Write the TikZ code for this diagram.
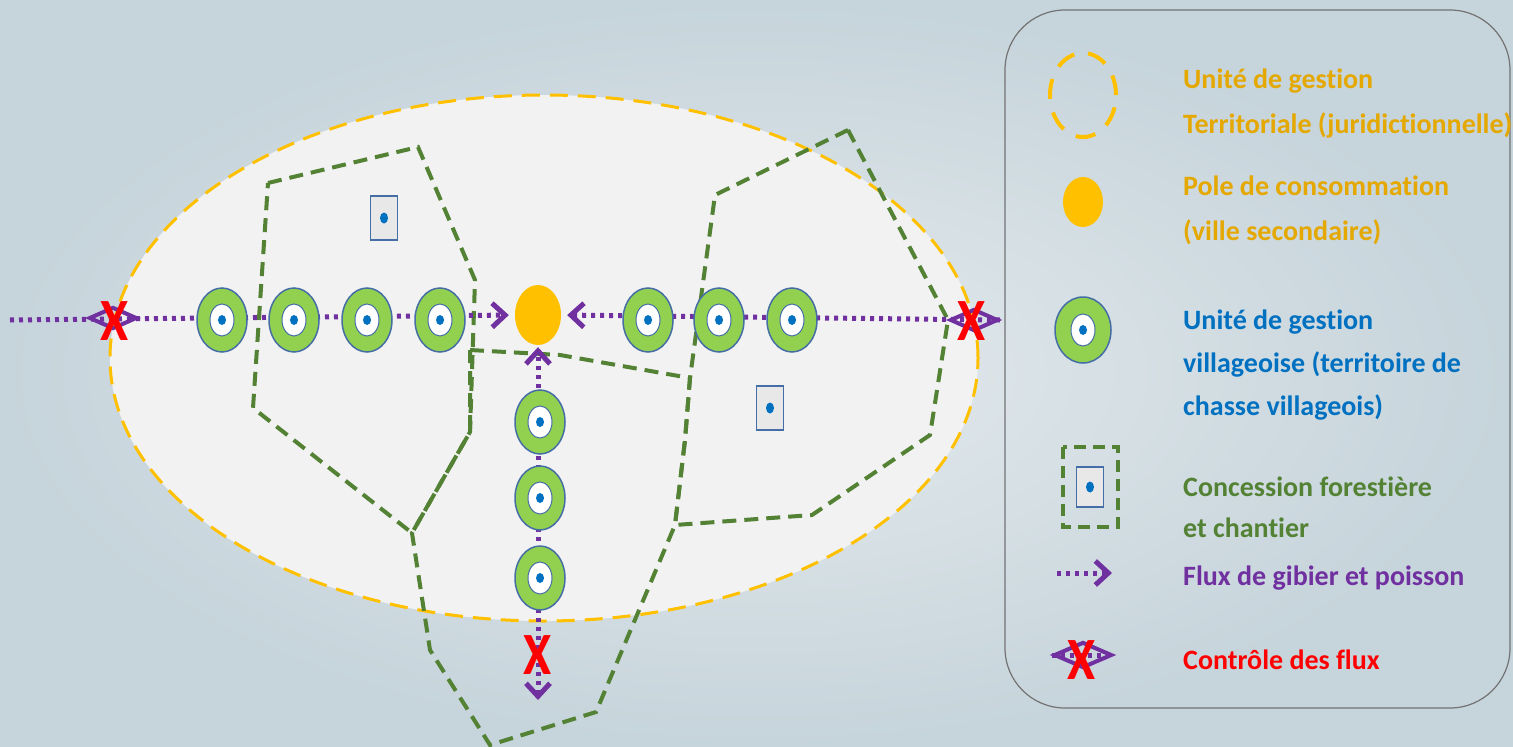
\documentclass[tikz,border=0pt]{standalone}
\usepackage{fontspec}
\setmainfont{Carlito}[Ligatures=NoCommon]
\usepackage{graphicx}
\usetikzlibrary{shapes.geometric,arrows.meta,backgrounds}
\pgfdeclarelayer{flux}
\pgfsetlayers{background,flux,main}

\definecolor{gold}{RGB}{255,192,0}
\definecolor{goldtext}{RGB}{228,168,0}
\definecolor{vgreen}{RGB}{146,208,80}
\definecolor{vborder}{RGB}{68,110,165}
\definecolor{dotblue}{RGB}{0,112,192}
\definecolor{forest}{RGB}{84,130,53}
\definecolor{fluxpurple}{RGB}{112,48,160}
\definecolor{bgout}{RGB}{198,212,219}
\definecolor{bgin}{RGB}{228,234,237}
\definecolor{terrfill}{RGB}{242,242,242}

\tikzset{
  village/.style={ellipse, draw=vborder, line width=1.5pt, fill=vgreen,
    minimum width=50pt, minimum height=64pt, inner sep=0pt,
    path picture={
      \draw[vborder, line width=1pt, fill=white] (path picture bounding box.center) ellipse (12pt and 16pt);
      \fill[dotblue] (path picture bounding box.center) ellipse (4pt and 5pt);}},
  chantier/.style={rectangle, draw=vborder, line width=1.5pt, fill=black!9,
    minimum width=27pt, minimum height=44pt, inner sep=0pt,
    path picture={\fill[dotblue] (path picture bounding box.center) ellipse (4pt and 5.5pt);}},
  pole/.style={ellipse, fill=gold, minimum width=46pt, minimum height=60pt, inner sep=0pt},
  control/.style={diamond, draw=fluxpurple, line width=4pt, minimum width=48pt,
    minimum height=22pt, inner sep=0pt},
  stopx/.style={text=red, font=\fontsize{60}{60}\selectfont\bfseries, inner sep=0pt},
  concession/.style={draw=forest, line width=4pt, dash pattern=on 14pt off 8pt},
  flux/.style={draw=fluxpurple, line width=5pt, dash pattern=on 4pt off 5pt,
    -{Straight Barb[length=13pt,width=24pt,line width=5pt]}},
  fluxboth/.style={flux, {Straight Barb[length=13pt,width=24pt,line width=5pt]}-{Straight Barb[length=13pt,width=24pt,line width=5pt]}},
  legtext/.style={anchor=west, align=left, inner sep=0pt,
    font=\fontsize{28}{45}\selectfont\bfseries}
}

\begin{document}
\begin{tikzpicture}[x=1pt,y=-1pt]
\useasboundingbox (0,0) rectangle (1513,747);

% territoire et concessions
\begin{scope}[on background layer]
\shade[inner color=bgin, outer color=bgout] (0,0) rectangle (1513,747);
\draw[gold, line width=3pt, dash pattern=on 18pt off 10pt, fill=terrfill] (544,358) ellipse (434pt and 263pt);
\draw[concession] (268,183) -- (418,147) -- (475,280) -- (470,432) -- (412,533) -- (253,408) -- cycle;
\draw[concession] (470,350) -- (560,355) -- (690,378) -- (685,440) -- (675,525) -- (596,712)
  -- (490,745) -- (430,650) -- (412,533) -- (470,432) -- cycle;
\draw[concession] (848,130) -- (715,195) -- (690,378) -- (685,440) -- (675,525) -- (812,515)
  -- (930,435) -- (948,320) -- cycle;
\end{scope}

\node[chantier] (ch1) at (384,218) {};
\node[chantier] (ch2) at (770,408) {};

% pole et unites villageoises
\node[pole] (pole) at (538,315) {};
\node[village] (v1) at (222,320) {};
\node[village] (v2) at (294,320) {};
\node[village] (v3) at (367,320) {};
\node[village] (v4) at (440,320) {};
\node[village] (v5) at (648,320) {};
\node[village] (v6) at (719,320) {};
\node[village] (v7) at (792,320) {};
\node[village] (v8) at (540,422) {};
\node[village] (v9) at (540,498) {};
\node[village] (v10) at (540,578) {};

% controles
\node[control] (cL) at (113,318) {};
\node[control] (cR) at (974,320) {};
\coordinate (fL) at (10,320);
\coordinate (fB) at (538,700);
\node[stopx] (xL) at (115,321) {\scalebox{0.85}[1]{X}};
\node[stopx] (xR) at (972,321) {\scalebox{0.85}[1]{X}};
\node[stopx] (xB) at (538,655) {\scalebox{0.85}[1]{X}};

% flux
\begin{pgfonlayer}{flux}
\draw[flux, shorten >=6pt] (fL) -- (pole.west);
\draw[flux, shorten >=6pt] (cR.east) -- (pole.east);
\draw[fluxboth, shorten >=2pt] (fB) -- (pole.south);
\end{pgfonlayer}

% legende
\draw[black!55, line width=1.2pt, rounded corners=60pt] (1005,10) rectangle (1510,708);
\node[ellipse, draw=gold, line width=4pt, dash pattern=on 20pt off 14pt,
  minimum width=66pt, minimum height=84pt] (lgTerr) at (1083,95) {};
\node[pole, minimum width=40pt, minimum height=50pt] (lgPole) at (1083,202) {};
\node[village, minimum width=56pt, minimum height=66pt] (lgVil) at (1083,330) {};
\draw[concession, line width=4pt, dash pattern=on 12pt off 7pt] (1063,447) rectangle (1118,527);
\node[chantier, minimum height=40pt] (lgCh) at (1090,487) {};
\coordinate (lgA1) at (1057,573);
\coordinate (lgA2) at (1112,573);
\draw[flux] (lgA1) -- (lgA2);
\node[control, minimum width=58pt, minimum height=26pt] (lgC) at (1083,655) {};
\draw[flux, -] (lgC.west) -- (lgC.east);
\node[stopx] (lgX) at (1082,660) {\scalebox{0.85}[1]{X}};

\node[legtext, text=goldtext] (tTerr) at (1183,104) {Unité de gestion\\Territoriale (juridictionnelle)};
\node[legtext, text=goldtext] (tPole) at (1183,210) {Pole de consommation\\(ville secondaire)};
\node[legtext, text=dotblue, font=\fontsize{28}{43}\selectfont\bfseries] (tVil) at (1183,365)
  {Unité de gestion\\villageoise (territoire de\\chasse villageois)};
\node[legtext, text=forest, font=\fontsize{28}{41}\selectfont\bfseries] (tCh) at (1183,507)
  {Concession forestière\\et chantier};
\node[legtext, text=fluxpurple] (tFlux) at (1183,578) {Flux de gibier et poisson};
\node[legtext, text=red] (tCtrl) at (1183,660) {Contrôle des flux};
\end{tikzpicture}
\end{document}
